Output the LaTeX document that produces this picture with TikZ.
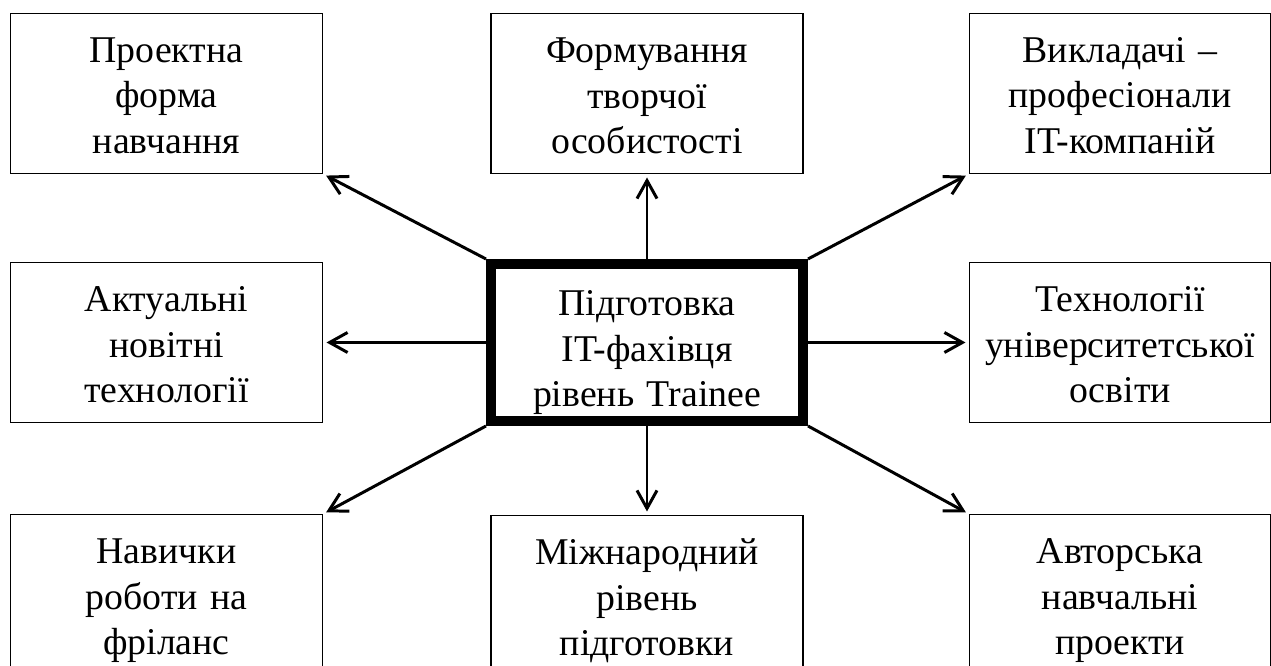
\documentclass[tikz,border=0pt]{standalone}
\usepackage{fontspec}
\setmainfont{Liberation Serif}
\usepackage{tikz}
\usetikzlibrary{arrows.meta, positioning}
\newcommand{\boxlead}[1]{\rule{0pt}{#1\baselineskip}}
\tikzstyle{block} = [rectangle, draw, line width=0.6pt, minimum width=6.24cm, minimum height=3.2cm, inner sep=0pt, text width=5.9cm, align=center, font=\fontsize{21.5}{25.9}\selectfont, execute at begin node=\boxlead{0.94}, execute at end node=\strut]
\tikzstyle{hub} = [block, line width=0.2cm, minimum height=3.14cm, execute at begin node=\boxlead{1.12}]
\tikzstyle{arrow} = [line width=1.7pt, -{Straight Barb[length=3.6mm, width=4mm]}, shorten >=2pt]

\begin{document}
\begin{tikzpicture}
\useasboundingbox (0,0) rectangle (25.42,13.32);

\node[hub] (centre) at (12.94,6.47) {Підготовка\\IT-фахівця\\рівень Trainee};

\node[block, above=1.7cm of centre] (creative) {Формування\\творчої\\особистості};
\node[block, below=1.78cm of centre] (intl) {Міжнародний\\рівень\\підготовки};

\node[block, left=3.26cm of centre] (newtech) {Актуальні\\новітні\\технології};
\node[block, minimum width=6.02cm, right=3.22cm of centre] (univ) {Технології\\університетської\\освіти};

\node[block, above=1.76cm of newtech] (project) {Проектна\\форма\\навчання};
\node[block, below=1.82cm of newtech] (freelance) {Навички\\роботи на\\фріланс};
\node[block, minimum width=6.02cm, above=1.76cm of univ] (teachers) {Викладачі –\\професіонали\\IT-компаній};
\node[block, minimum width=6.02cm, below=1.82cm of univ] (author) {Авторська\\навчальні\\проекти};

\draw[arrow] (centre.north) -- (creative.south);
\draw[arrow] (centre.south) -- (centre.south |- intl.north);
\draw[arrow] (centre.west) -- (newtech.east);
\draw[arrow] (centre.east) -- (univ.west);
\draw[arrow] (centre.north west) -- (project.south east);
\draw[arrow] (centre.north east) -- (teachers.south west);
\draw[arrow] (centre.south west) -- (freelance.north east);
\draw[arrow] (centre.south east) -- (author.north west);
\end{tikzpicture}
\end{document}
